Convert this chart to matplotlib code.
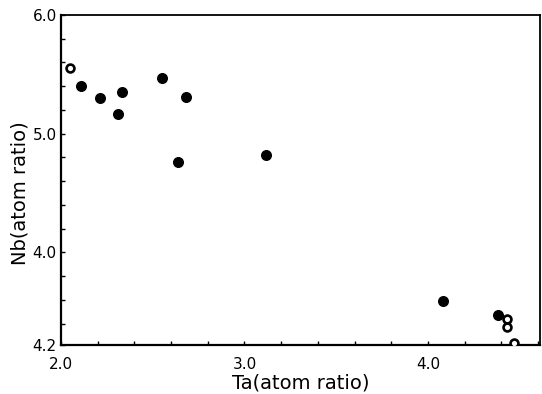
import matplotlib
matplotlib.use("Agg")
import matplotlib.pyplot as plt
from matplotlib.ticker import MultipleLocator, FixedLocator, FixedFormatter

plt.rcParams["font.family"] = ["DejaVu Sans"]

# Nb vs Ta content (atom ratio)
ta_filled = [2.11, 2.21, 2.33, 2.31, 2.55, 2.68, 2.64, 3.12, 4.08, 4.38]
nb_filled = [5.40, 5.30, 5.35, 5.17, 5.47, 5.31, 4.76, 4.82, 3.59, 3.47]
ta_open = [2.05, 4.43, 4.43, 4.47]
nb_open = [5.55, 3.44, 3.37, 3.235]

y_ticks = [3.22, 4.0, 5.0, 6.0]
y_labels = ["4.2", "4.0", "5.0", "6.0"]
x_ticks = [2.0, 3.0, 4.0]
x_labels = ["2.0", "3.0", "4.0"]

fig = plt.figure(figsize=(5.42, 3.94), dpi=100)
ax = fig.add_axes([0.1125, 0.1244, 0.8835, 0.8376])

ax.scatter(ta_filled, nb_filled, s=48, color="black", zorder=3)
ax.scatter(ta_open, nb_open, s=32, facecolor="white", edgecolor="black",
           linewidth=1.9, zorder=3)

ax.set_xlim(2.0, 4.61)
ax.set_ylim(3.22, 6.0)

ax.xaxis.set_major_locator(FixedLocator(x_ticks))
ax.xaxis.set_major_formatter(FixedFormatter(x_labels))
ax.xaxis.set_minor_locator(MultipleLocator(0.2))
ax.yaxis.set_major_locator(FixedLocator(y_ticks))
ax.yaxis.set_major_formatter(FixedFormatter(y_labels))
ax.yaxis.set_minor_locator(MultipleLocator(0.2))

ax.tick_params(which="both", direction="in", length=3, width=1.0,
               top=False, right=False, labelsize=11, pad=3)
ax.tick_params(axis="x", pad=9)

for side in ["left", "bottom"]:
    ax.spines[side].set_linewidth(1.6)
for side in ["top", "right"]:
    ax.spines[side].set_linewidth(1.3)

ax.set_xlabel("Ta(atom ratio)", fontsize=14)
ax.set_ylabel("Nb(atom ratio)", fontsize=14)
ax.xaxis.set_label_coords(0.5, -0.085)
ax.yaxis.set_label_coords(-0.065, 0.46)

fig.savefig("out.png", dpi=100)
